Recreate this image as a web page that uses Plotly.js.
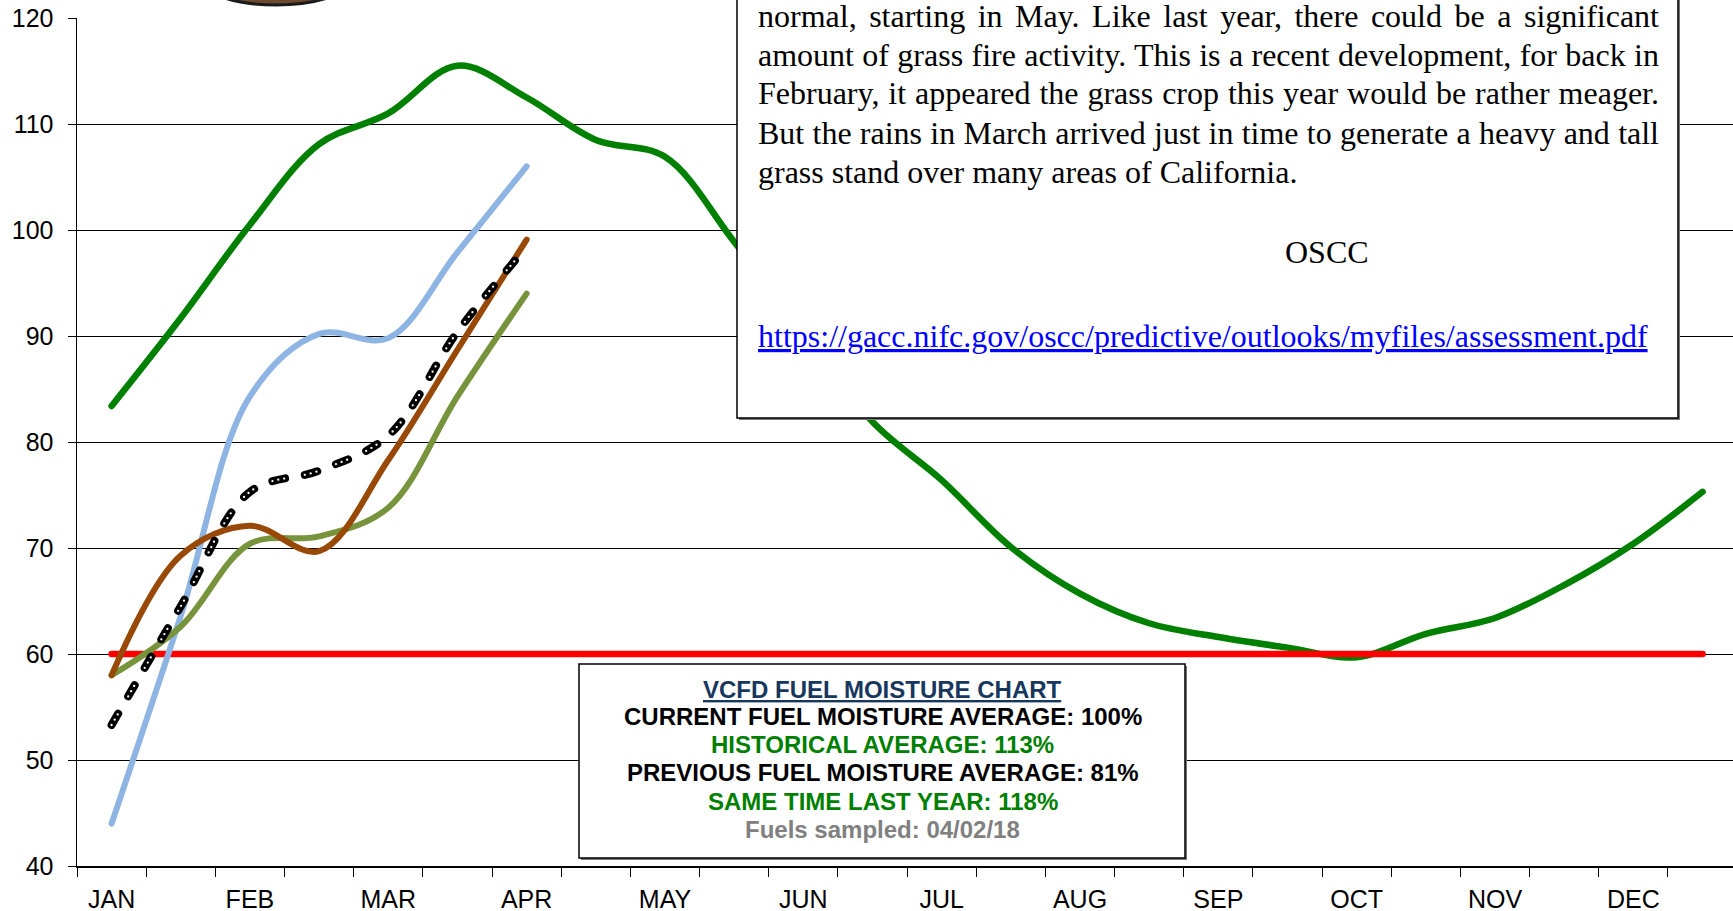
<!DOCTYPE html>
<html>
<head>
<meta charset="utf-8">
<script src="https://cdn.plot.ly/plotly-3.0.1.min.js"></script>
<style>
  html, body { margin: 0; padding: 0; background: #fff; }
  #chart { width: 1733px; height: 911px; }
  .scatterlayer .js-line { stroke-linecap: round; stroke-linejoin: round; }
</style>
</head>
<body>
<div id="chart"></div>
<script>
// ---- data ----
const periods = ['JAN','JAN-15','FEB','FEB-15','MAR','MAR-15','APR','APR-15','MAY','MAY-15','JUN','JUN-15',
                 'JUL','JUL-15','AUG','AUG-15','SEP','SEP-15','OCT','OCT-15','NOV','NOV-15','DEC','DEC-15'];
const tickLabels = ['JAN','','FEB','','MAR','','APR','','MAY','','JUN','','JUL','','AUG','','SEP','','OCT','','NOV','','DEC',''];

const historical = [83.4, 91.7, 100.5, 108.1, 111.0, 115.5, 112.5, 108.5, 106.9, 98.9, 90.5, 81.9,
                    76.4, 70.1, 65.7, 62.9, 61.6, 60.6, 59.7, 61.9, 63.4, 66.5, 70.4, 75.3];
const criticalLevel = [60, 60, 60, 60, 60, 60, 60, 60, 60, 60, 60, 60,
                       60, 60, 60, 60, 60, 60, 60, 60, 60, 60, 60, 60];
const seriesBlue  = [44.0, 63.6, 84.3, 90.2, 89.8, 97.9, 106.0];
const seriesOlive = [58.0, 62.6, 70.4, 71.1, 73.8, 84.3, 94.0];
const seriesBrown = [58.0, 69.3, 72.1, 69.7, 78.3, 88.7, 99.1];
const currentYear = [53.3, 64.5, 75.3, 77.3, 80.6, 90.4, 98.4];

const assessmentLines = [
  'normal, starting in May. Like last year, there could be a significant',
  'amount of grass fire activity. This is a recent development, for back in',
  'February, it appeared the grass crop this year would be rather meager.',
  'But the rains in March arrived just in time to generate a heavy and tall',
  'grass stand over many areas of California.'
];
const assessmentSource = 'OSCC';
const assessmentUrl = 'https://gacc.nifc.gov/oscc/predictive/outlooks/myfiles/assessment.pdf';

const infoTitle = 'VCFD FUEL MOISTURE CHART';
const infoLines = [
  {text: 'CURRENT FUEL MOISTURE AVERAGE: 100%', color: '#000000'},
  {text: 'HISTORICAL AVERAGE: 113%', color: '#008000'},
  {text: 'PREVIOUS FUEL MOISTURE AVERAGE: 81%', color: '#000000'},
  {text: 'SAME TIME LAST YEAR: 118%', color: '#008000'},
  {text: 'Fuels sampled: 04/02/18', color: '#808080'}
];

// ---- layout helpers (pixel -> paper) ----
const W = 1733, H = 911;
const mL = 77, mR = 0, mT = 18, mB = 45;
const pw = W - mL - mR, ph = H - mT - mB;
const px = x => (x - mL) / pw;
const py = y => (H - mB - y) / ph;

const sans = 'Liberation Sans, Arial, sans-serif';
const serif = 'Liberation Serif, Times New Roman, serif';

function line(y, color, width, extra) {
  return Object.assign({
    type: 'scatter', mode: 'lines',
    x: periods.slice(0, y.length), y: y,
    line: {color: color, width: width, shape: 'spline', smoothing: 1},
    hoverinfo: 'skip'
  }, extra || {});
}

const traces = [
  line(historical, '#008000', 6.5),
  line(criticalLevel, '#FF0000', 6.5, {line: {color: '#FF0000', width: 6.5, shape: 'linear'}}),
  line(seriesBlue, '#8DB4E2', 6),
  line(seriesOlive, '#77933C', 6),
  line(seriesBrown, '#984807', 6),
  line(currentYear, '#000000', 8, {line: {color: '#000000', width: 8, shape: 'spline', smoothing: 1, dash: '13px,20px'}}),
  line(currentYear, '#FFFFFF', 2.3, {line: {color: '#FFFFFF', width: 2.3, shape: 'spline', smoothing: 1, dash: '0px,6px,0px,6px,0px,21px'}})
];

const annotations = [];
const textLeft = px(757);
const textYs = [16, 54.5, 93.5, 133, 172];
assessmentLines.forEach((t, i) => {
  annotations.push({xref: 'paper', yref: 'paper', x: textLeft, y: py(textYs[i]),
    xanchor: 'left', yanchor: 'middle', align: 'left', showarrow: false, borderpad: 0,
    text: t, font: {family: serif, size: 32, color: '#000'}});
});
annotations.push({xref: 'paper', yref: 'paper', x: px(1327), y: py(252),
  xanchor: 'center', yanchor: 'middle', showarrow: false,
  text: assessmentSource, font: {family: serif, size: 32, color: '#000'}});
annotations.push({xref: 'paper', yref: 'paper', x: textLeft, y: py(336),
  xanchor: 'left', yanchor: 'middle', align: 'left', showarrow: false, borderpad: 0,
  text: '<a href="' + assessmentUrl + '"><span style="fill:#0000FF;color:#0000FF"><u>' + assessmentUrl + '</u></span></a>',
  font: {family: serif, size: 32, color: '#0000FF'}});

const infoCx = px(882.5);
const infoYs = [689.5, 716, 744.5, 772.5, 801, 829];
annotations.push({xref: 'paper', yref: 'paper', x: infoCx, y: py(infoYs[0]),
  xanchor: 'center', yanchor: 'middle', showarrow: false,
  text: '<b><u>' + infoTitle + '</u></b>', font: {family: sans, size: 24, color: '#17375E'}});
infoLines.forEach((l, i) => {
  annotations.push({xref: 'paper', yref: 'paper', x: infoCx, y: py(infoYs[i + 1]),
    xanchor: 'center', yanchor: 'middle', showarrow: false,
    text: '<b>' + l.text + '</b>', font: {family: sans, size: 24, color: l.color}});
});

const shapes = [
  // logo edge peeking in at the top
  {type: 'circle', xref: 'paper', yref: 'paper', x0: px(196), x1: px(356), y0: py(5), y1: py(-55),
   fillcolor: '#6b4a30', line: {color: '#1a1a1a', width: 3}, layer: 'above'},
  // assessment text box (shadow + box)
  {type: 'rect', xref: 'paper', yref: 'paper', x0: px(739), x1: px(1680), y0: py(420), y1: py(-40),
   fillcolor: '#777', line: {width: 0}, layer: 'above'},
  {type: 'rect', xref: 'paper', yref: 'paper', x0: px(737), x1: px(1678), y0: py(418), y1: py(-40),
   fillcolor: '#ffffff', line: {color: '#000', width: 1.5}, layer: 'above'},
  // info box (shadow + box)
  {type: 'rect', xref: 'paper', yref: 'paper', x0: px(581), x1: px(1187), y0: py(860), y1: py(666),
   fillcolor: '#777', line: {width: 0}, layer: 'above'},
  {type: 'rect', xref: 'paper', yref: 'paper', x0: px(579), x1: px(1185), y0: py(858), y1: py(664),
   fillcolor: '#ffffff', line: {color: '#000', width: 1.5}, layer: 'above'}
];

const layout = {
  width: W, height: H,
  margin: {l: mL, r: mR, t: mT, b: mB, pad: 0},
  paper_bgcolor: '#ffffff', plot_bgcolor: '#ffffff',
  showlegend: false,
  font: {family: sans, color: '#000'},
  xaxis: {
    type: 'category', range: [-0.5, 23.44],
    tickmode: 'array', tickvals: periods, ticktext: tickLabels, tickson: 'boundaries',
    ticks: 'outside', ticklen: 9, tickwidth: 1, tickcolor: '#000', ticklabelstandoff: 10,
    showgrid: false, showline: true, linecolor: '#000', linewidth: 1.5,
    tickfont: {family: sans, size: 25, color: '#000'}, fixedrange: true
  },
  yaxis: {
    range: [40, 120], tick0: 40, dtick: 10,
    ticks: 'outside', ticklen: 8, tickwidth: 1, tickcolor: '#000', ticklabelstandoff: 9,
    showgrid: true, gridcolor: '#000', gridwidth: 1,
    showline: true, linecolor: '#000', linewidth: 1.5, zeroline: false,
    tickfont: {family: sans, size: 25, color: '#000'}, fixedrange: true
  },
  shapes: shapes,
  annotations: annotations
};

Plotly.newPlot('chart', traces, layout, {displayModeBar: false, staticPlot: true}).then(function (gd) {
  // justify the paragraph lines (all but the last) to the text block width
  const target = 901;
  gd.querySelectorAll('.annotation').forEach(function (g) {
    const idx = +g.getAttribute('data-index');
    if (idx >= 0 && idx < assessmentLines.length - 1) {
      const t = g.querySelector('text.annotation-text');
      if (!t) return;
      t.style.wordSpacing = '0px';
      const len = t.getComputedTextLength();
      const n = (t.textContent.match(/ /g) || []).length;
      if (n > 0) t.style.wordSpacing = ((target - len) / n) + 'px';
    }
  });
});
</script>
</body>
</html>
